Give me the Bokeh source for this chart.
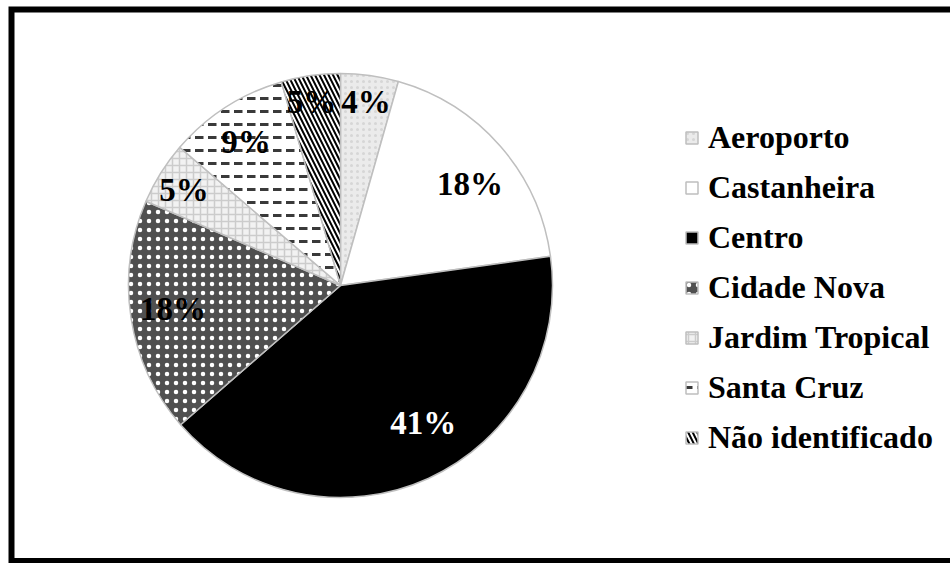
import math
from bokeh.plotting import figure
from bokeh.models import ColumnDataSource, Legend, LegendItem, Range1d
from bokeh.core.properties import value
from bokeh.embed import file_html
from bokeh.resources import INLINE

# ---- data ----
categories = ["Aeroporto", "Castanheira", "Centro", "Cidade Nova",
              "Jardim Tropical", "Santa Cruz", "Não identificado"]
# slice shares (%)
share = [4.4, 18.4, 40.8, 17.9, 4.8, 9.2, 4.5]
# printed percentage labels
pct_labels = ["4%", "18%", "41%", "18%", "5%", "9%", "5%"]

# ---- styles (per slice) ----
fill_colors = ["#ebebeb", "#ffffff", "#000000", "#505050", "#f2f2f2", "#ffffff", "#ffffff"]
hatch_patterns = [".", " ", " ", ".", "+", '"', "\\"]
hatch_colors = ["#d6d6d6", "#ffffff", "#000000", "#ffffff", "#cccccc", "#3a3a3a", "#000000"]
hatch_scales = [6, 10, 10, 9, 7, 13, 9]
hatch_weights = [1.0, 1.0, 1.0, 2.0, 1.5, 3.0, 2.0]
label_colors = ["black", "black", "white", "black", "black", "black", "black"]
# label placement: fraction of radius and angular nudge (degrees, clockwise)
label_rfrac = [0.872, 0.775, 0.759, 0.798, 0.864, 0.812, 0.874]
label_nudge = [0.0, 3.0, -6.5, 0.8, -0.7, -0.5, -0.9]

# ---- layout ----
W, H = 950, 563
CX, CY, R = 340, 278, 212
BORDER = 6

total = sum(share)
starts, ends, mids = [], [], []
cum = 0.0
for v, nd in zip(share, label_nudge):
    a0 = math.pi / 2 - 2 * math.pi * cum / total
    a1 = math.pi / 2 - 2 * math.pi * (cum + v) / total
    starts.append(a0)
    ends.append(a1)
    mids.append(math.pi / 2 - 2 * math.pi * (cum + v / 2) / total - math.radians(nd))
    cum += v

lx = [CX + f * R * math.cos(m) for f, m in zip(label_rfrac, mids)]
ly = [CY + f * R * math.sin(m) for f, m in zip(label_rfrac, mids)]

src = ColumnDataSource(dict(
    cat=categories, start=starts, end=ends,
    x=[CX] * len(share), y=[CY] * len(share),
    fill=fill_colors, hp=hatch_patterns, hc=hatch_colors,
    hs=hatch_scales, hw=hatch_weights,
))
lsrc = ColumnDataSource(dict(x=lx, y=ly, t=pct_labels, c=label_colors))

p = figure(width=W, height=H, output_backend="svg", toolbar_location=None,
           x_range=Range1d(0, W), y_range=Range1d(0, H),
           x_axis_location=None, y_axis_location=None,
           min_border=0, min_border_left=0, min_border_right=0,
           min_border_top=0, min_border_bottom=0)
p.grid.visible = False
p.outline_line_color = None
p.background_fill_color = "white"
p.border_fill_color = "white"

# outer frame (left, top, bottom edges; right edge lies outside the window)
bx0 = 8 + BORDER / 2
by_top = H - 6 - BORDER / 2
by_bot = BORDER / 2 - 0.5
p.line(x=[W + 20, bx0, bx0, W + 20], y=[by_top, by_top, by_bot, by_bot],
       line_color="black", line_width=BORDER, line_join="miter")

r = p.wedge(x="x", y="y", radius=R, start_angle="start", end_angle="end",
            direction="clock", source=src,
            fill_color="fill", hatch_pattern="hp", hatch_color="hc",
            hatch_scale="hs", hatch_weight="hw",
            line_color="#bfbfbf", line_width=1.5)

p.text(x="x", y="y", text="t", source=lsrc, text_color="c",
       text_font=value("Liberation Serif"), text_font_style="bold",
       text_font_size="33px", text_align="center", text_baseline="middle")

legend = Legend(items=[LegendItem(label=c, renderers=[r], index=i)
                       for i, c in enumerate(categories)],
                location=(684, 107), orientation="vertical",
                label_text_font="Liberation Serif", label_text_font_style="bold",
                label_text_font_size="32px", label_text_color="black",
                glyph_width=15, glyph_height=15, label_standoff=9,
                label_height=32, spacing=13, padding=0, margin=0,
                border_line_color=None, background_fill_alpha=0)
p.add_layout(legend)

open("out.html", "w").write(file_html(p, INLINE))
